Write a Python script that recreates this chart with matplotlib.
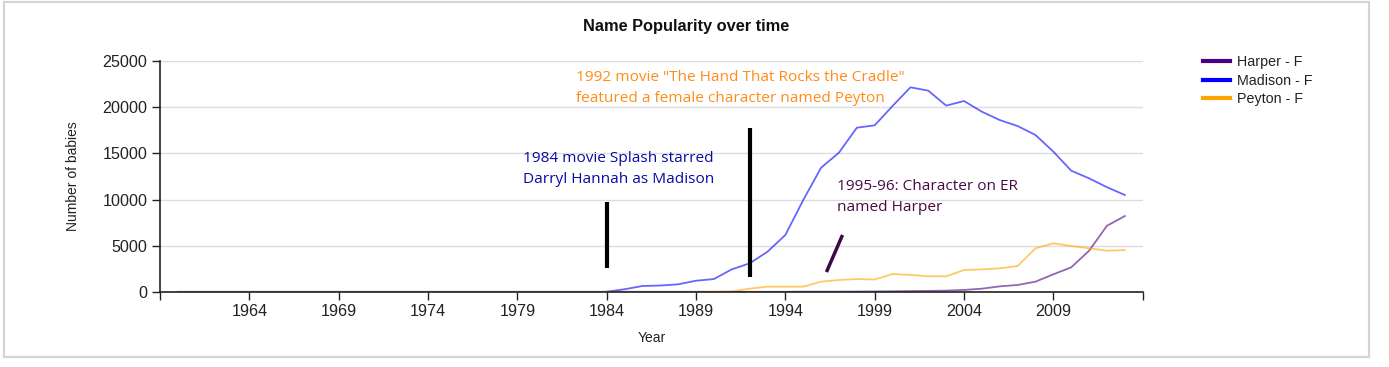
import matplotlib

matplotlib.use("Agg")
import matplotlib.pyplot as plt
import numpy as np
from matplotlib.lines import Line2D
from matplotlib.patches import Rectangle

years = list(range(1960, 2014))

# Madison has no counts before 1984
madison = [np.nan] * 24 + [
    30, 300, 650, 700, 830, 1220, 1400, 2450, 3100, 4360,
    6170, 9950, 13450, 15080, 17780, 18040, 20130, 22150, 21790, 20170,
    20670, 19510, 18610, 17960, 16990, 15190, 13130, 12300, 11340, 10500,
]
peyton = [
    20, 20, 20, 20, 20, 20, 20, 20, 20, 20,
    20, 20, 20, 20, 20, 20, 20, 20, 20, 20,
    20, 20, 20, 20, 20, 20, 20, 20, 20, 20,
    30, 60, 360, 580, 580, 580, 1120, 1300, 1400, 1350,
    1950, 1850, 1700, 1700, 2380, 2450, 2560, 2810, 4730, 5270,
    4980, 4730, 4470, 4540,
]
harper = [
    20, 20, 20, 20, 20, 20, 20, 20, 20, 20,
    20, 20, 20, 20, 20, 20, 20, 20, 20, 20,
    20, 20, 20, 20, 20, 20, 20, 20, 20, 20,
    20, 20, 20, 20, 20, 40, 40, 40, 50, 60,
    80, 100, 120, 150, 220, 360, 610, 760, 1120, 1910,
    2670, 4470, 7170, 8220,
]

series = [
    ("Harper - F", harper, "#4b0082"),
    ("Madison - F", madison, "#0000ff"),
    ("Peyton - F", peyton, "#ffa500"),
]

plt.rcParams["font.family"] = ["Liberation Sans", "DejaVu Sans"]

fig = plt.figure(figsize=(13.89, 3.67), dpi=100)
ax = fig.add_axes([160 / 1389, 1 - 292 / 367, (1142.7 - 160) / 1389, (292 - 61) / 367])

# light frame around the whole chart
fig.patches.append(Rectangle((4 / 1389, 1 - 357 / 367), 1365 / 1389, 355 / 367,
                             transform=fig.transFigure, fill=False,
                             edgecolor="#d4d4d4", lw=1.6))

for name, vals, col in series:
    ax.plot(years, vals, color=col, lw=1.3, alpha=0.6)

ax.set_xlim(1959, 2014)
ax.set_ylim(0, 25000)
xt = list(range(1959, 2015, 5))
ax.set_xticks(xt)
ax.set_xticklabels(["" if t in (1959, 2014) else str(t) for t in xt])
ax.set_yticks(range(0, 25001, 5000))
ax.tick_params(axis="both", direction="out", length=6, width=1, labelsize=11.6,
               color="#222222", labelcolor="#222222", pad=3)
ax.grid(axis="y", color="#dddddd", lw=1)
ax.set_axisbelow(True)
for s in ("top", "right"):
    ax.spines[s].set_visible(False)
for s in ("left", "bottom"):
    ax.spines[s].set_color("#222222")
    ax.spines[s].set_linewidth(1.2)

ax.set_xlabel("Year", fontsize=10, color="#222222", labelpad=8)
ax.set_ylabel("Number of babies", fontsize=10, color="#222222", labelpad=16)
fig.text(686 / 1389, 1 - 26 / 367, "Name Popularity over time", ha="center",
         va="center", fontsize=11.8, fontweight="bold", color="#111111")

# annotations
ann_font = ["Open Sans", "DejaVu Sans"]
ax.text(1982.3, 24000,
        '1992 movie "The Hand That Rocks the Cradle"\nfeatured a female character named Peyton',
        color="#ff8c1a", fontsize=11.1, va="top", ha="left", family=ann_font, linespacing=1.55)
ax.text(1979.3, 15300, "1984 movie Splash starred\nDarryl Hannah as Madison",
        color="#0a0aa5", fontsize=11.1, va="top", ha="left", family=ann_font, linespacing=1.55)
ax.text(1996.9, 12200, "1995-96: Character on ER\nnamed Harper",
        color="#4a0a45", fontsize=11.1, va="top", ha="left", family=ann_font, linespacing=1.55)
ax.plot([1984, 1984], [2600, 9750], color="black", lw=3, solid_capstyle="butt")
ax.plot([1992, 1992], [1620, 17750], color="black", lw=3, solid_capstyle="butt")
ax.plot([1996.3, 1997.2], [2160, 6170], color="#3c0a46", lw=2.5, solid_capstyle="butt")

handles = [Line2D([], [], color=c, lw=3) for _, _, c in series]
fig.legend(handles, [n for n, _, _ in series], loc="upper left",
           bbox_to_anchor=(1203 / 1389, 1 - 55 / 367), frameon=False, fontsize=10.3,
           handlelength=1.9, handletextpad=0.5, labelspacing=0.33,
           borderpad=0, borderaxespad=0, labelcolor="#222222")

fig.savefig("out.png", dpi=100)
